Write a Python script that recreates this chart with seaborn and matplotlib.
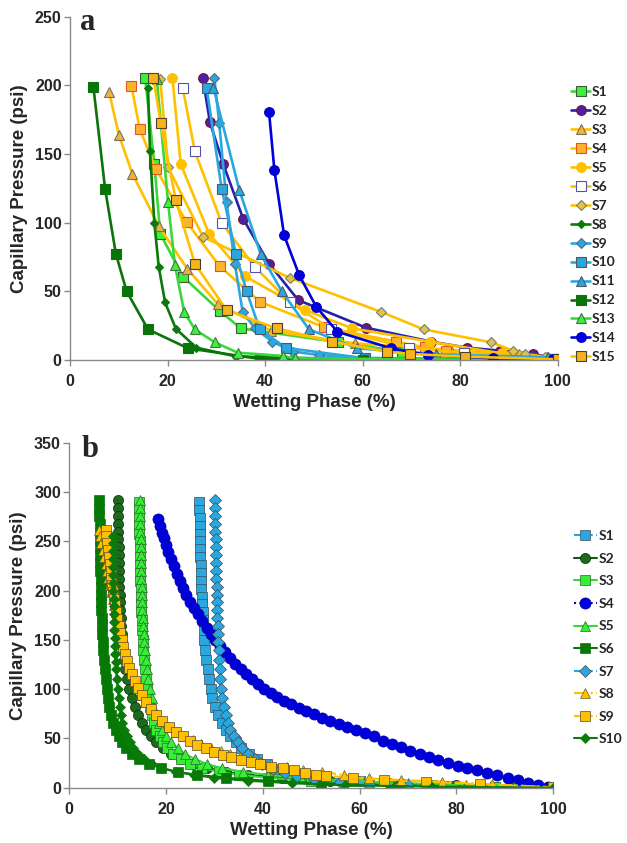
import matplotlib
matplotlib.use("Agg")
import matplotlib.pyplot as plt
import seaborn as sns

sns.set_theme(style="white")
plt.rcParams['font.family'] = ['Liberation Sans', 'DejaVu Sans']

# ---------------- panel a: wetting phase (%) / capillary pressure (psi)
a_labels = ['S1', 'S2', 'S3', 'S4', 'S5', 'S6', 'S7', 'S8', 'S9', 'S10',
            'S11', 'S12', 'S13', 'S14', 'S15']

a_s1_x = [15.4, 17.3, 18.5, 23.2, 30.7, 35.0, 55.0, 68.0, 82.0, 99.0]
a_s1_y = [205.8, 142.9, 92.0, 60.5, 35.8, 23.0, 13.0, 6.0, 3.0, 0.5]
a_s2_x = [27.2, 28.7, 31.4, 35.5, 40.8, 46.8, 60.7, 74.1, 81.3, 88.1, 95.0, 99.5]
a_s2_y = [205.8, 173.1, 142.9, 102.9, 70.2, 43.6, 23.5, 13.3, 9.0, 6.8, 4.4, 1.0]
a_s3_x = [8.0, 10.0, 12.8, 18.2, 24.0, 30.3, 41.3, 58.4, 78.2, 92.0, 97.8]
a_s3_y = [195.6, 164.2, 135.6, 97.6, 66.6, 40.7, 21.1, 12.1, 7.3, 4.0, 2.0]
a_s4_x = [12.6, 14.3, 17.6, 23.9, 30.7, 38.9, 52.0, 66.9, 72.7, 77.1, 90.0, 99.0]
a_s4_y = [199.7, 168.3, 139.2, 100.5, 68.3, 42.4, 24.0, 13.3, 9.2, 6.5, 3.0, 1.0]
a_s5_x = [21.0, 22.7, 28.5, 35.9, 48.2, 57.9, 73.8, 88.5, 99.5]
a_s5_y = [205.8, 142.9, 92.0, 61.0, 36.3, 23.0, 13.3, 4.8, 1.0]
a_s6_x = [23.1, 25.6, 31.1, 37.9, 45.1, 53.6, 69.5, 80.8, 99.0]
a_s6_y = [198.5, 152.0, 99.8, 67.8, 41.9, 22.3, 9.0, 5.0, 0.5]
a_s7_x = [18.5, 20.1, 27.3, 45.1, 63.7, 72.5, 86.4, 90.8, 93.3, 97.4]
a_s7_y = [205.0, 140.4, 89.6, 59.8, 35.1, 22.3, 12.8, 6.8, 4.4, 2.4]
a_s8_x = [16.0, 16.4, 17.3, 18.2, 19.5, 21.7, 25.9, 34.1, 60.0, 100.0]
a_s8_y = [198.5, 152.0, 99.8, 67.8, 41.9, 22.8, 9.0, 2.5, 0.5, 0.0]
a_s9_x = [29.6, 30.6, 32.1, 33.8, 35.4, 37.9, 41.5, 45.8, 51.0, 60.0, 100.0]
a_s9_y = [205.3, 172.4, 115.0, 70.2, 35.1, 23.0, 13.3, 6.1, 3.6, 1.5, 0.0]
a_s10_x = [28.0, 31.1, 34.0, 36.2, 38.9, 44.3, 60.5, 90.8]
a_s10_y = [198.5, 124.7, 77.5, 50.1, 22.3, 8.8, 1.2, 0.3]
a_s11_x = [29.4, 34.7, 39.1, 43.4, 49.0, 58.9, 75.0, 98.0]
a_s11_y = [198.5, 124.0, 77.0, 50.1, 22.3, 8.5, 4.0, 2.0]
a_s12_x = [4.8, 7.2, 9.4, 11.6, 16.0, 24.2, 38.9, 60.0, 100.0]
a_s12_y = [199.0, 124.7, 77.5, 50.1, 22.3, 8.5, 0.8, 0.3, 0.0]
a_s13_x = [17.8, 20.1, 21.5, 23.4, 25.6, 29.7, 34.4, 43.7, 46.1, 70.0, 100.0]
a_s13_y = [204.6, 115.0, 69.5, 35.1, 22.3, 12.8, 5.3, 2.9, 1.2, 0.5, 0.0]
a_s14_x = [40.8, 41.9, 43.9, 47.0, 50.5, 54.8, 65.8, 73.3, 86.8, 99.0]
a_s14_y = [180.9, 138.5, 90.8, 61.7, 38.7, 20.6, 8.5, 3.6, 1.2, 0.5]
a_s15_x = [17.1, 18.6, 21.7, 25.6, 32.1, 42.4, 53.8, 64.9, 69.7, 81.0, 100.0]
a_s15_y = [205.8, 172.4, 116.2, 70.2, 36.3, 23.0, 13.3, 6.1, 4.4, 2.4, 0.5]

# ---------------- panel b
b_labels = ['S1', 'S2', 'S3', 'S4', 'S5', 'S6', 'S7', 'S8', 'S9', 'S10']

b_s1_x = [26.9, 26.9, 27.0, 27.0, 27.0, 27.1, 27.1, 27.1, 27.2, 27.2,
          27.3, 27.3, 27.4, 27.5, 27.6, 27.7, 27.8, 27.9, 28.1, 28.3,
          28.6, 28.9, 29.2, 29.6, 30.1, 30.8, 31.6, 32.4, 33.3, 34.4,
          35.6, 37.2, 38.8, 40.8, 43.4, 47.5, 53.0, 60.0, 68.4, 78.0,
          88.0, 100.0]
b_s1_y = [290, 282, 274, 266, 258, 250, 242, 234, 226, 218,
          210, 202, 194, 186, 178, 170, 160, 150, 140, 130,
          120, 110, 100, 91, 82, 74, 66, 59, 52, 46,
          40, 34, 29, 24, 19, 14, 10, 6.5, 4, 2.2,
          1, 0]
b_s2_x = [10.0, 10.0, 10.0, 10.1, 10.1, 10.1, 10.2, 10.2, 10.2, 10.3,
          10.3, 10.3, 10.4, 10.5, 10.5, 10.6, 10.7, 10.8, 10.9, 11.1,
          11.3, 11.6, 12.0, 12.4, 12.9, 13.5, 14.2, 15.0, 15.9, 16.9,
          18.0, 19.3, 21.0, 23.0, 25.5, 28.5, 32.5, 37.0, 44.0, 54.0,
          66.0, 80.0, 92.0, 100.0]
b_s2_y = [292, 284, 276, 268, 260, 252, 244, 236, 228, 220,
          212, 204, 196, 188, 180, 172, 164, 156, 148, 140,
          130, 120, 110, 100, 91, 82, 74, 66, 59, 52,
          46, 40, 34, 29, 24, 20, 16, 13, 10, 7,
          4.5, 2.5, 1, 0]
b_s3_x = [14.4, 14.4, 14.5, 14.5, 14.5, 14.6, 14.6, 14.6, 14.7, 14.7,
          14.7, 14.8, 14.8, 14.9, 14.9, 15.0, 15.1, 15.2, 15.3, 15.4,
          15.6, 15.8, 16.0, 16.3, 16.6, 17.0, 17.5, 18.0, 18.7, 19.4,
          20.3, 21.5, 23.0, 25.0, 27.5, 31.0, 35.0, 41.0, 50.0, 62.0,
          75.0, 88.0, 100.0]
b_s3_y = [290, 282, 274, 266, 258, 250, 242, 234, 226, 218,
          210, 202, 194, 186, 178, 170, 160, 150, 140, 130,
          120, 110, 100, 91, 82, 74, 66, 59, 52, 46,
          40, 34, 29, 24, 20, 16, 13, 10, 7, 4.5,
          2.5, 1, 0]
b_s4_x = [18.3, 18.7, 19.1, 19.5, 20.0, 20.5, 21.0, 21.6, 22.2, 22.8,
          23.5, 24.2, 25.0, 25.8, 26.6, 27.5, 28.4, 29.3, 30.2, 31.2,
          32.2, 33.2, 34.3, 35.4, 36.6, 37.8, 39.0, 40.3, 41.6, 43.0,
          44.4, 45.9, 47.4, 49.0, 50.6, 52.3, 54.0, 55.7, 57.5, 59.3,
          61.1, 62.9, 64.8, 66.7, 68.6, 70.5, 72.4, 74.3, 76.3, 78.3,
          80.3, 82.3, 84.3, 86.4, 88.5, 90.6, 92.7, 94.8, 96.9, 99.0]
b_s4_y = [273, 266, 259, 253, 246, 239, 232, 225, 217, 210,
          203, 196, 189, 182, 176, 169, 162, 156, 150, 144,
          138, 132, 126, 121, 115, 110, 105, 100, 96, 92,
          88, 84.5, 81, 77.5, 74.5, 71, 68, 65, 62, 59,
          55.5, 52.5, 47.5, 44.5, 41, 37.5, 34, 31, 28, 25.5,
          22.5, 20, 17.5, 15, 12.5, 10, 7.5, 5, 3, 1]
b_s5_x = [14.6, 14.6, 14.7, 14.7, 14.7, 14.8, 14.8, 14.8, 14.9, 14.9,
          14.9, 15.0, 15.0, 15.1, 15.1, 15.2, 15.3, 15.4, 15.5, 15.6,
          15.8, 16.0, 16.3, 16.6, 17.0, 17.4, 17.9, 18.5, 19.2, 20.0,
          21.0, 22.4, 24.0, 26.0, 28.5, 31.5, 36.0, 41.0, 48.0, 58.0,
          70.0, 82.0, 92.0, 100.0]
b_s5_y = [292, 284, 276, 268, 260, 252, 244, 236, 228, 220,
          212, 204, 196, 188, 180, 172, 164, 156, 148, 140,
          130, 120, 110, 100, 91, 82, 74, 66, 59, 52,
          46, 40, 34, 29, 24, 20, 16, 13, 10, 7,
          4.5, 2.5, 1, 0]
b_s6_x = [6.2, 6.2, 6.2, 6.3, 6.3, 6.3, 6.3, 6.4, 6.4, 6.4,
          6.5, 6.5, 6.5, 6.6, 6.6, 6.7, 6.7, 6.8, 6.9, 7.0,
          7.1, 7.3, 7.5, 7.7, 8.0, 8.3, 8.7, 9.1, 9.6, 10.2,
          10.9, 11.8, 13.0, 14.5, 16.5, 19.0, 22.5, 26.5, 32.5, 41.0,
          52.0, 68.0, 85.0, 100.0]
b_s6_y = [292, 284, 276, 268, 260, 252, 244, 236, 228, 220,
          212, 204, 196, 188, 180, 172, 164, 156, 148, 140,
          130, 120, 110, 100, 91, 82, 74, 66, 59, 52,
          46, 40, 34, 29, 24, 20, 16, 13, 10, 7,
          4.5, 2.5, 1, 0]
b_s7_x = [30.1, 30.1, 30.2, 30.2, 30.2, 30.3, 30.3, 30.3, 30.4,
          30.4, 30.4, 30.5, 30.5, 30.5, 30.6, 30.6, 30.7, 30.7, 30.8,
          30.9, 31.0, 31.1, 31.2, 31.4, 31.6, 31.9, 32.3, 32.8, 33.3,
          34.0, 34.8, 35.8, 37.0, 38.3, 39.9, 42.2, 44.5, 47.0, 50.5,
          56.0, 62.0, 70.0, 85.0, 100.0]
b_s7_y = [292, 284, 276, 268, 260, 252, 244, 236, 228,
          220, 212, 204, 196, 188, 180, 172, 164, 156, 148,
          140, 130, 120, 110, 100, 91, 82, 74, 66, 59,
          52, 46, 40, 34, 29, 24, 19, 15, 12, 9,
          6, 4, 2.5, 1, 0]
b_s8_x = [6.2, 6.4, 6.6, 6.9, 7.2, 7.5, 7.8, 8.1, 8.4, 8.7,
          9.0, 9.3, 9.6, 9.9, 10.2, 10.5, 10.8, 11.1, 11.5, 11.9,
          12.4, 12.9, 13.5, 14.2, 15.0, 15.9, 16.9, 18.0, 19.3, 20.7,
          22.2, 23.8, 25.5, 27.3, 29.3, 31.3, 33.3, 35.3, 37.3, 39.3,
          41.8, 45.0, 48.4, 52.2, 56.7, 62.0, 68.5, 77.1, 87.3, 100.0]
b_s8_y = [262, 255, 248, 241, 234, 227, 220, 213, 206, 199,
          192, 185, 178, 171, 164, 157, 150, 143, 136, 129,
          122, 115, 108, 101, 94, 87, 80, 74, 68, 62,
          57, 52, 48, 44, 40.5, 37, 34, 31.5, 29, 26.4,
          23.7, 21.4, 18, 16.3, 12.9, 9.5, 7.8, 6.1, 3.4, 0.5]
b_s9_x = [7.5, 7.6, 7.8, 8.0, 8.2, 8.4, 8.6, 8.7, 8.9, 9.1,
          9.3, 9.5, 9.7, 9.9, 10.2, 10.5, 10.8, 11.1, 11.5, 11.9,
          12.4, 12.9, 13.5, 14.2, 15.0, 15.9, 16.9, 18.0, 19.2, 20.6,
          22.0, 23.5, 25.0, 26.5, 28.2, 30.0, 31.8, 33.5, 35.5, 37.5,
          39.5, 41.8, 44.2, 46.5, 48.8, 51.0, 53.0, 58.6, 65.1, 73.8,
          85.0, 100.0]
b_s9_y = [262, 255, 248, 241, 234, 227, 220, 213, 206, 199,
          192, 185, 178, 171, 164, 157, 150, 143, 136, 129,
          122, 115, 108, 101, 94, 87, 80, 74, 68, 62,
          57, 52, 47.5, 43.5, 40, 36.6, 33.5, 31, 28.5, 26,
          23.7, 21.5, 19.5, 17.5, 15.3, 13.3, 11.9, 10.2, 7.8, 6.1,
          3.4, 0.5]
b_s10_x = [9.0, 9.0, 9.0, 9.0, 9.1, 9.1, 9.1, 9.1, 9.2, 9.2,
           9.2, 9.3, 9.3, 9.4, 9.4, 9.5, 9.6, 9.7, 9.8, 10.0,
           10.2, 10.4, 10.7, 11.0, 11.4, 11.9, 12.5, 13.2, 14.2, 15.4,
           17.0, 19.0, 22.0, 25.7, 30.0, 37.0, 46.0, 57.0, 75.0, 100.0]
b_s10_y = [256, 248, 240, 232, 224, 216, 208, 200, 192, 184,
           176, 168, 160, 152, 144, 136, 128, 120, 110, 100,
           91, 82, 74, 66, 59, 52, 46, 40, 34, 29,
           24, 20, 16, 13, 10, 7, 4.5, 2.5, 1, 0]

# ---------------- styles
GOLD = '#FFC000'
LBLUE = '#2AA7DE'
DGREEN = '#0B7A0B'
BGREEN = '#3AD83A'

a_series = [
    (a_s1_x, a_s1_y, dict(c=BGREEN, m='s', fc='#3CF03C', ec='#3A5A3A')),
    (a_s2_x, a_s2_y, dict(c='#2323AA', m='o', fc='#4A22A8', ec='#7A1030')),
    (a_s3_x, a_s3_y, dict(c=GOLD, m='^', fc='#EFB336', ec='#7A7060')),
    (a_s4_x, a_s4_y, dict(c=GOLD, m='s', fc='#F9B42C', ec='#E2561E')),
    (a_s5_x, a_s5_y, dict(c=GOLD, m='o', fc=GOLD, ec=GOLD)),
    (a_s6_x, a_s6_y, dict(c=GOLD, m='s', fc='white', ec='#5555A8')),
    (a_s7_x, a_s7_y, dict(c=GOLD, m='D', fc='#E6C04A', ec='#708070', ms=5.5)),
    (a_s8_x, a_s8_y, dict(c=DGREEN, m='D', fc=DGREEN, ec=DGREEN, ms=4.5)),
    (a_s9_x, a_s9_y, dict(c=LBLUE, m='D', fc=LBLUE, ec='#5A6A7A', ms=5.5)),
    (a_s10_x, a_s10_y, dict(c=LBLUE, m='s', fc=LBLUE, ec='#4A5A6A')),
    (a_s11_x, a_s11_y, dict(c=LBLUE, m='^', fc=LBLUE, ec='#4A5A6A')),
    (a_s12_x, a_s12_y, dict(c='#0A730A', m='s', fc='#0A730A', ec='#0A730A')),
    (a_s13_x, a_s13_y, dict(c=BGREEN, m='^', fc='#3CF03C', ec='#3A7A3A')),
    (a_s14_x, a_s14_y, dict(c='#0000D8', m='o', fc='#0000E0', ec='#0000C0')),
    (a_s15_x, a_s15_y, dict(c=GOLD, m='s', fc='#F5B41E', ec='#4A4030')),
]

b_series = [
    (b_s1_x, b_s1_y, dict(c=LBLUE, m='s', fc=LBLUE, ec='#3A4A5A', ls='-.')),
    (b_s2_x, b_s2_y, dict(c='#0E5E0E', m='o', fc='#1C6B1C', ec='#0A2A0A')),
    (b_s3_x, b_s3_y, dict(c=BGREEN, m='s', fc='#36EE36', ec='#2A6A2A')),
    (b_s4_x, b_s4_y, dict(c='#0000C8', m='o', fc='#0000DC', ec='#0000A0', ls=':', ms=8)),
    (b_s5_x, b_s5_y, dict(c=BGREEN, m='^', fc='#36EE36', ec='#2A6A2A')),
    (b_s6_x, b_s6_y, dict(c='#067806', m='s', fc='#067806', ec='#067806')),
    (b_s7_x, b_s7_y, dict(c=LBLUE, m='D', fc=LBLUE, ec='#3A4A5A', ls='-.', ms=6)),
    (b_s8_x, b_s8_y, dict(c=GOLD, m='^', fc=GOLD, ec='#6A5A30', ls='-.')),
    (b_s9_x, b_s9_y, dict(c=GOLD, m='s', fc=GOLD, ec='#5A4A30', ls='--')),
    (b_s10_x, b_s10_y, dict(c='#0A7A0A', m='D', fc='#0A7A0A', ec='#0A7A0A', ms=5)),
]


def draw(ax, x, y, label, st, ms, lw, mew):
    sns.lineplot(x=x, y=y, ax=ax, sort=False, estimator=None, label=label,
                 color=st['c'], linewidth=lw, linestyle=st.get('ls', '-'),
                 marker=st['m'], markersize=st.get('ms', ms),
                 markerfacecolor=st['fc'], markeredgecolor=st['ec'],
                 markeredgewidth=mew)


def style_axes(ax, ymax, ystep):
    ax.set_xlim(0, 100)
    ax.set_ylim(0, ymax)
    ax.set_xticks(range(0, 101, 20))
    ax.set_yticks(range(0, ymax + 1, ystep))
    for s in ['top', 'right']:
        ax.spines[s].set_visible(False)
    for s in ['left', 'bottom']:
        ax.spines[s].set_color('#8a8a8a')
        ax.spines[s].set_linewidth(1.0)
    ax.tick_params(axis='both', direction='out', length=4, width=1,
                   color='#8a8a8a', labelsize=11.5, left=True, bottom=True)
    ax.tick_params(axis='x', pad=6)
    ax.tick_params(axis='y', pad=2)
    for t in ax.get_xticklabels() + ax.get_yticklabels():
        t.set_fontweight('bold')
    ax.set_xlabel('Wetting Phase (%)', fontsize=13.5, fontweight='bold', labelpad=4)
    ax.set_ylabel('Capillary Pressure (psi)', fontsize=13.5, fontweight='bold', labelpad=5)
    ax.grid(False)


fig = plt.figure(figsize=(6.27, 8.43), dpi=100)
ax_a = fig.add_axes([0.1116, 0.573, 0.778, 0.407])
ax_b = fig.add_axes([0.1105, 0.0656, 0.7715, 0.409])

for (x, y, st), lab in zip(a_series, a_labels):
    draw(ax_a, x, y, lab, st, ms=7, lw=1.9, mew=0.8)
for (x, y, st), lab in zip(b_series, b_labels):
    draw(ax_b, x, y, lab, st, ms=7.3, lw=1.5, mew=0.5)

style_axes(ax_a, 250, 50)
style_axes(ax_b, 350, 50)

leg_font = {'family': 'Lato', 'weight': 'bold', 'size': 10}
h, l = ax_a.get_legend_handles_labels()
ax_a.legend(h, l, loc='upper left', bbox_to_anchor=(0.911, 0.898),
            bbox_transform=fig.transFigure, frameon=False, prop=leg_font,
            handlelength=1.35, handletextpad=0.1, labelspacing=0.5,
            borderpad=0, borderaxespad=0)
h, l = ax_b.get_legend_handles_labels()
ax_b.legend(h, l, loc='upper left', bbox_to_anchor=(0.916, 0.371),
            bbox_transform=fig.transFigure, frameon=False, prop=leg_font,
            handlelength=1.6, handletextpad=0.12, labelspacing=0.76,
            borderpad=0, borderaxespad=0)

fig.text(0.127, 0.9644, 'a', family='Liberation Serif', fontweight='bold', fontsize=22)
fig.text(0.130, 0.4583, 'b', family='Liberation Serif', fontweight='bold', fontsize=22)

fig.savefig('out.png', dpi=100, facecolor='white')
